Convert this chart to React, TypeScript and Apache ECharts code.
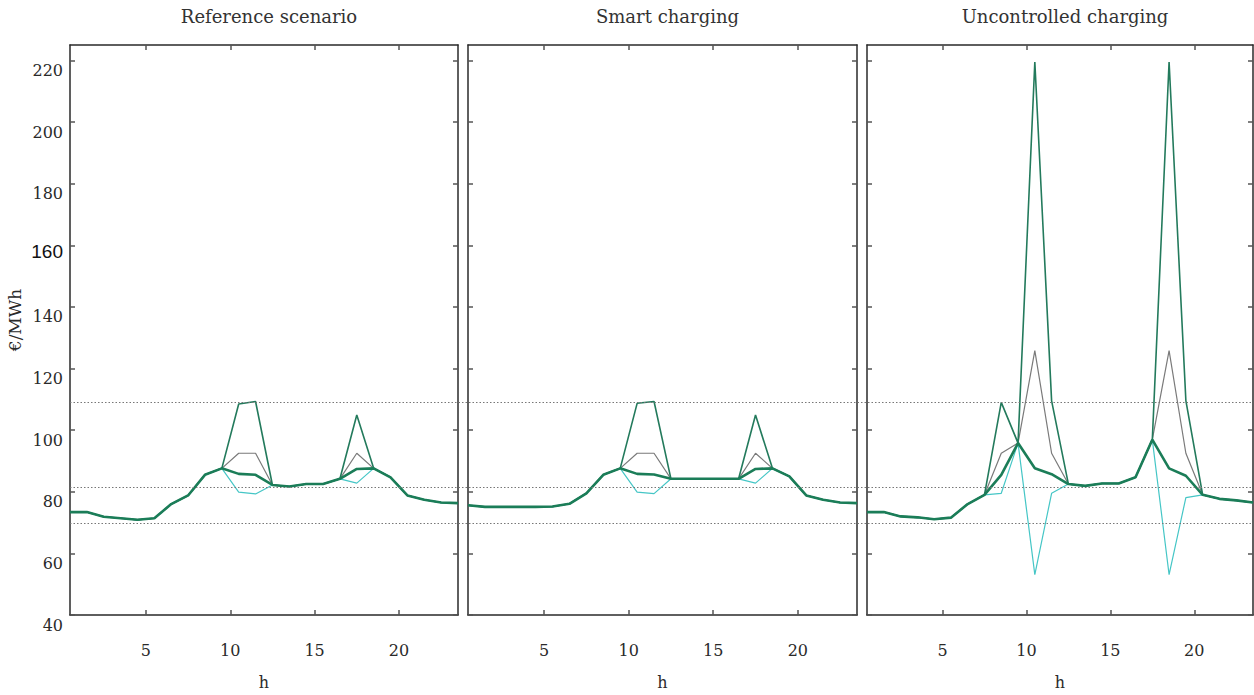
import React, { useEffect, useRef } from "react";
import * as echarts from "echarts";

// Hours of the day (half-hour centred points)
const hours = [0.5, 1.5, 2.5, 3.5, 4.5, 5.5, 6.5, 7.5, 8.5, 9.5, 10.5, 11.5, 12.5, 13.5, 14.5, 15.5, 16.5, 17.5, 18.5, 19.5, 20.5, 21.5, 22.5, 23.5];

const panelTitles = ["Reference scenario", "Smart charging", "Uncontrolled charging"];
const xTickValues = [5, 10, 15, 20];
const yTickValues = [40, 60, 80, 100, 120, 140, 160, 180, 200, 220];
const refLevels = [109.6, 81.9, 70.4];

// Reference scenario
const refBase = [73.4, 73.4, 71.9, 71.4, 70.9, 71.4, 76.0, 78.8, 85.5, 87.6, 85.8, 85.5, 82.2, 81.7, 82.5, 82.5, 84.2, 87.4, 87.6, 84.7, 78.8, 77.4, 76.5, 76.3];
const refLow = [73.4, 73.4, 71.9, 71.4, 70.9, 71.4, 76.0, 78.8, 85.5, 87.6, 79.9, 79.3, 82.2, 81.7, 82.5, 82.5, 84.2, 82.8, 87.6, 84.7, 78.8, 77.4, 76.5, 76.3];
const refMid = [73.4, 73.4, 71.9, 71.4, 70.9, 71.4, 76.0, 78.8, 85.5, 87.6, 92.5, 92.5, 82.2, 81.7, 82.5, 82.5, 84.2, 92.5, 87.6, 84.7, 78.8, 77.4, 76.5, 76.3];
const refHigh = [73.4, 73.4, 71.9, 71.4, 70.9, 71.4, 76.0, 78.8, 85.5, 87.6, 108.5, 109.3, 82.2, 81.7, 82.5, 82.5, 84.2, 104.9, 87.6, 84.7, 78.8, 77.4, 76.5, 76.3];

// Smart charging
const smartBase = [75.6, 75.1, 75.1, 75.1, 75.1, 75.2, 76.1, 79.5, 85.5, 87.6, 85.8, 85.6, 84.2, 84.2, 84.2, 84.2, 84.2, 87.4, 87.6, 85.0, 78.8, 77.4, 76.5, 76.3];
const smartLow = [75.6, 75.1, 75.1, 75.1, 75.1, 75.2, 76.1, 79.5, 85.5, 87.6, 79.9, 79.4, 84.2, 84.2, 84.2, 84.2, 84.2, 82.8, 87.6, 85.0, 78.8, 77.4, 76.5, 76.3];
const smartMid = [75.6, 75.1, 75.1, 75.1, 75.1, 75.2, 76.1, 79.5, 85.5, 87.6, 92.5, 92.5, 84.2, 84.2, 84.2, 84.2, 84.2, 92.5, 87.6, 85.0, 78.8, 77.4, 76.5, 76.3];
const smartHigh = [75.6, 75.1, 75.1, 75.1, 75.1, 75.2, 76.1, 79.5, 85.5, 87.6, 108.7, 109.3, 84.2, 84.2, 84.2, 84.2, 84.2, 104.9, 87.6, 85.0, 78.8, 77.4, 76.5, 76.3];

// Uncontrolled charging
const uncBase = [73.4, 73.4, 72.0, 71.7, 71.1, 71.6, 76.0, 79.0, 85.5, 95.8, 87.6, 85.7, 82.5, 81.9, 82.7, 82.7, 84.7, 96.9, 87.6, 85.2, 79.0, 77.7, 77.2, 76.5];
const uncLow = [73.4, 73.4, 72.0, 71.7, 71.1, 71.6, 76.0, 79.0, 79.5, 95.8, 53.1, 79.5, 82.5, 81.9, 82.7, 82.7, 84.7, 96.9, 53.1, 78.1, 79.0, 77.7, 77.2, 76.5];
const uncMid = [73.4, 73.4, 72.0, 71.7, 71.1, 71.6, 76.0, 79.0, 92.5, 95.8, 125.8, 92.5, 82.5, 81.9, 82.7, 82.7, 84.7, 96.9, 125.8, 92.5, 79.0, 77.7, 77.2, 76.5];
const uncHigh = [73.4, 73.4, 72.0, 71.7, 71.1, 71.6, 76.0, 79.0, 109.0, 95.8, 219.5, 109.5, 82.5, 81.9, 82.7, 82.7, 84.7, 96.9, 219.5, 109.6, 79.0, 77.7, 77.2, 76.5];

const panels = [
  { base: refBase, low: refLow, mid: refMid, high: refHigh },
  { base: smartBase, low: smartLow, mid: smartMid, high: smartHigh },
  { base: uncBase, low: uncLow, mid: uncMid, high: uncHigh },
];

const FONT = "DejaVu Serif";

export default function App() {
  const ref = useRef<HTMLDivElement>(null);

  useEffect(() => {
    if (!ref.current) return;
    const chart = echarts.init(ref.current, null, { renderer: "svg" });

    const grids = [
      { left: 70, top: 45, width: 388, height: 572 },
      { left: 468, top: 45, width: 389, height: 572 },
      { left: 867, top: 45, width: 386, height: 572 },
      { left: 70, top: 45, width: 1183, height: 572 },
    ];

    const axisLine = { show: true, lineStyle: { color: "#2a2a2a", width: 1.5 } };
    const tick = (vals: number[]) => ({
      show: true,
      inside: true,
      length: 5,
      customValues: vals,
      lineStyle: { color: "#555", width: 1.5 },
    });

    const xAxis: any[] = [];
    const yAxis: any[] = [];
    for (let i = 0; i < 3; i++) {
      xAxis.push({
        type: "value",
        gridIndex: i,
        position: "bottom",
        min: 0.5,
        max: 23.5,
        axisLine,
        axisTick: tick(xTickValues),
        splitLine: { show: false },
        axisLabel: {
          customValues: xTickValues,
          margin: 27,
          fontFamily: FONT,
          fontSize: 16,
          color: "#2a2a2a",
        },
        name: "h",
        nameLocation: "middle",
        nameGap: 59,
        nameTextStyle: { fontFamily: FONT, fontSize: 16, color: "#2a2a2a" },
      });
      xAxis.push({
        type: "value",
        gridIndex: i,
        position: "top",
        min: 0.5,
        max: 23.5,
        axisLine,
        axisTick: tick(xTickValues),
        splitLine: { show: false },
        axisLabel: { show: false },
      });
      yAxis.push({
        type: "value",
        gridIndex: i,
        position: "left",
        min: 40,
        max: 225,
        axisLine,
        axisTick: tick(yTickValues),
        splitLine: { show: false },
        axisLabel:
          i === 0
            ? {
                show: true,
                customValues: yTickValues,
                margin: 7,
                verticalAlign: "top",
                padding: [2, 0, 0, 0],
                fontFamily: FONT,
                fontSize: 16,
                color: "#2a2a2a",
                formatter: (v: number) => (v === 160 ? `{s|${v}}` : `${v}`),
                rich: {
                  s: { fontFamily: "Liberation Sans", fontSize: 19, color: "#111", verticalAlign: "top", padding: [-5, 0, 0, 0] },
                },
              }
            : { show: false },
        name: i === 0 ? "€/MWh" : "",
        nameLocation: "middle",
        nameRotate: 90,
        nameGap: 47,
        nameTextStyle: { fontFamily: FONT, fontSize: 17, color: "#2a2a2a", padding: [0, 0, 0, 20] },
      });
      yAxis.push({
        type: "value",
        gridIndex: i,
        position: "right",
        min: 40,
        max: 225,
        axisLine,
        axisTick: tick(yTickValues),
        splitLine: { show: false },
        axisLabel: { show: false },
      });
    }
    // overlay axes for the reference levels spanning all panels
    xAxis.push({ type: "value", gridIndex: 3, min: 0, max: 1, show: false });
    yAxis.push({ type: "value", gridIndex: 3, min: 40, max: 225, show: false });

    const series: any[] = [
      {
        type: "line",
        xAxisIndex: 6,
        yAxisIndex: 6,
        data: [],
        z: 1,
        silent: true,
        markLine: {
          silent: true,
          symbol: ["none", "none"],
          label: { show: false },
          lineStyle: { color: "#777", type: [1.5, 2], width: 1 },
          data: refLevels.map((v) => ({ yAxis: v })),
        },
      },
    ];

    const toData = (arr: number[]) => hours.map((h, k) => [h, arr[k]]);
    panels.forEach((p, i) => {
      const common = {
        type: "line",
        xAxisIndex: i * 2,
        yAxisIndex: i * 2,
        showSymbol: false,
        symbol: "none",
        z: 3,
      };
      series.push({ ...common, name: "mid", data: toData(p.mid), lineStyle: { color: "#7a7a7a", width: 1.2 } });
      series.push({ ...common, name: "low", data: toData(p.low), lineStyle: { color: "#45c6c6", width: 1.2 } });
      series.push({ ...common, name: "high", data: toData(p.high), lineStyle: { color: "#237a5c", width: 1.6 } });
      series.push({ ...common, name: "base", data: toData(p.base), lineStyle: { color: "#1b7d58", width: 2.6 } });
    });

    const title = panelTitles.map((t, i) => ({
      text: t,
      left: grids[i].left + grids[i].width / 2,
      textAlign: "center",
      top: 2,
      textStyle: { fontFamily: FONT, fontSize: 18, fontWeight: "normal", color: "#333" },
    }));

    chart.setOption({
      animation: false,
      backgroundColor: "#ffffff",
      title,
      grid: grids,
      xAxis,
      yAxis,
      series,
    });

    return () => chart.dispose();
  }, []);

  return (
    <div
      ref={ref}
      style={{ position: "absolute", left: 0, top: 0, width: 1254, height: 695 }}
    />
  );
}
